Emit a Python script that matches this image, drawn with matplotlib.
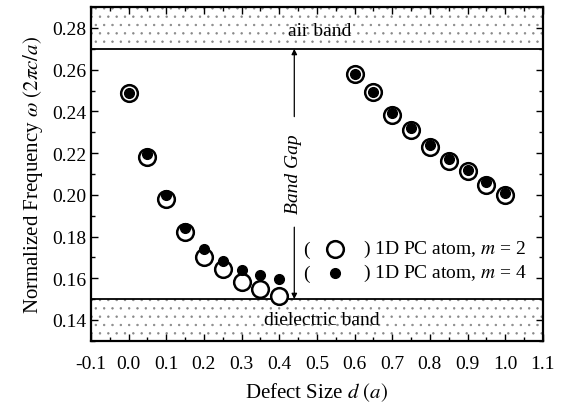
import matplotlib
matplotlib.use("Agg")
import matplotlib.pyplot as plt
from matplotlib.ticker import MultipleLocator

plt.rcParams['font.family'] = ['Liberation Serif', 'DejaVu Serif']
plt.rcParams['mathtext.fontset'] = 'stix'
plt.rcParams['hatch.linewidth'] = 0.5

d_left = [0.0, 0.05, 0.1, 0.15, 0.2, 0.25, 0.3, 0.35, 0.4]
m2_left = [0.2489, 0.2182, 0.1982, 0.1821, 0.1703, 0.1645, 0.1581, 0.1549, 0.1514]
m4_left = [0.2489, 0.2197, 0.2001, 0.1842, 0.1741, 0.1685, 0.1640, 0.1615, 0.1596]
d_right = [0.6, 0.65, 0.7, 0.75, 0.8, 0.85, 0.9, 0.95, 1.0]
m2_right = [0.2580, 0.2493, 0.2385, 0.2313, 0.2230, 0.2162, 0.2114, 0.2049, 0.1999]
m4_right = [0.2580, 0.2495, 0.2393, 0.2321, 0.2238, 0.2173, 0.2121, 0.2061, 0.2010]
air_band_edge = 0.27
dielectric_band_edge = 0.15
x_ticks = [-0.1, 0.0, 0.1, 0.2, 0.3, 0.4, 0.5, 0.6, 0.7, 0.8, 0.9, 1.0, 1.1]
y_ticks = [0.14, 0.16, 0.18, 0.20, 0.22, 0.24, 0.26, 0.28]

FS = 14

fig = plt.figure(figsize=(5.72, 4.06), dpi=100)
ax = fig.add_axes([0.159, 0.158, 0.79, 0.822])
ax.set_xlim(-0.1, 1.1)
ax.set_ylim(0.13, 0.29)

ax.fill_between([-0.1, 1.1], air_band_edge, 0.29, facecolor='white', edgecolor='#888888', hatch='..', linewidth=0, zorder=1)
ax.fill_between([-0.1, 1.1], 0.13, dielectric_band_edge, facecolor='white', edgecolor='#888888', hatch='..', linewidth=0, zorder=1)
ax.axhline(air_band_edge, color='black', lw=1.3, zorder=2)
ax.axhline(dielectric_band_edge, color='black', lw=1.3, zorder=2)

ax.text(0.508, 0.2787, 'air band', ha='center', va='center', fontsize=FS, zorder=3)
ax.text(0.512, 0.1400, 'dielectric band', ha='center', va='center', fontsize=FS, zorder=3)

for dd, m2, m4 in [(d_left, m2_left, m4_left), (d_right, m2_right, m4_right)]:
    ax.plot(dd, m2, 'o', ms=12, mfc='white', mec='black', mew=1.8, ls='none', zorder=4)
    ax.plot(dd, m4, 'o', ms=7, mfc='black', mec='black', ls='none', zorder=5)

xa = 0.44
ax.annotate('', xy=(xa, air_band_edge), xytext=(xa, 0.2375),
            arrowprops=dict(arrowstyle='-|>', color='black', lw=0.9, mutation_scale=8, shrinkA=0, shrinkB=0), zorder=3)
ax.annotate('', xy=(xa, dielectric_band_edge), xytext=(xa, 0.1845),
            arrowprops=dict(arrowstyle='-|>', color='black', lw=0.9, mutation_scale=8, shrinkA=0, shrinkB=0), zorder=3)
ax.text(xa - 0.003, 0.2105, 'Band Gap', rotation=90, ha='center', va='center', fontsize=FS, style='italic')

# legend
m_vals = ['2', '4']
legend_y = [0.1741, 0.1626]
for i, y in enumerate(legend_y):
    ax.text(0.472, y, '(', ha='center', va='center', fontsize=FS)
    if i == 0:
        ax.plot([0.548], [y], 'o', ms=12, mfc='white', mec='black', mew=1.8)
    else:
        ax.plot([0.548], [y], 'o', ms=7, mfc='black', mec='black')
    ax.text(0.622, y, ') 1D PC atom, $m$ = ' + m_vals[i], ha='left', va='center', fontsize=FS)

ax.set_xticks(x_ticks)
ax.set_xticklabels(['%.1f' % v for v in x_ticks])
ax.xaxis.set_minor_locator(MultipleLocator(0.05))
ax.set_yticks(y_ticks)
ax.set_yticklabels(['%.2f' % v for v in y_ticks])
ax.yaxis.set_minor_locator(MultipleLocator(0.01))
ax.tick_params(which='both', direction='in', top=True, right=True, labelsize=FS)
ax.tick_params(which='major', length=5, width=1)
ax.tick_params(which='minor', length=3, width=1)
ax.tick_params(axis='x', pad=10)
for s in ax.spines.values():
    s.set_linewidth(1.6)

ax.set_xlabel('Defect Size $d$ $(a)$', fontsize=FS + 1, labelpad=6)
ax.set_ylabel(r'Normalized Frequency $\omega$ $(2\pi c/a)$', fontsize=FS + 1, labelpad=5)

fig.savefig('out.png', dpi=100)
